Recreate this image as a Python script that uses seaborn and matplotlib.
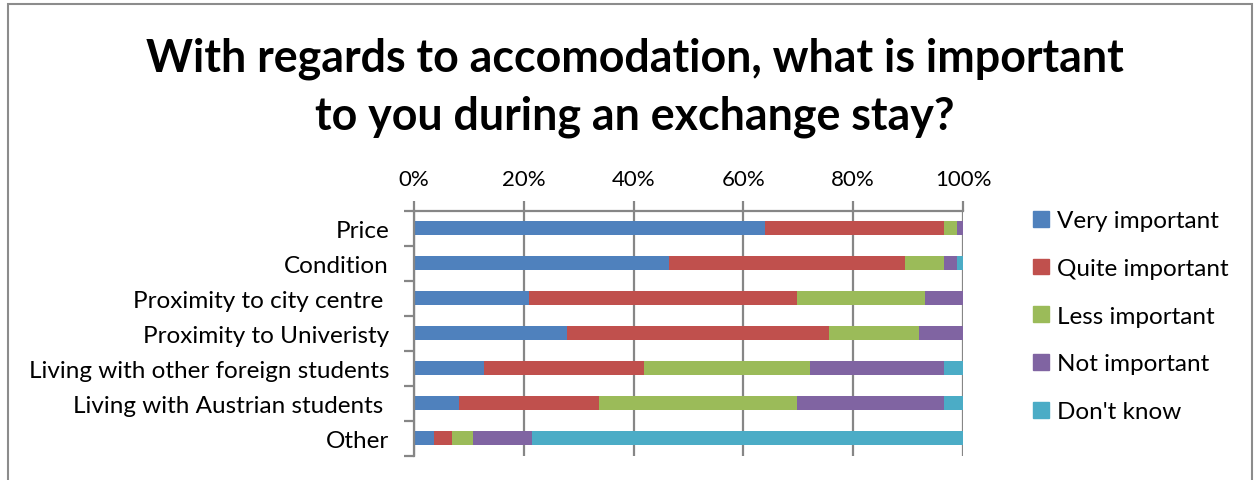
import matplotlib
matplotlib.use("Agg")
import matplotlib.pyplot as plt
import matplotlib.patches as mpatches
import numpy as np
import pandas as pd
import seaborn as sns

# Survey answers, share of respondents (%) per accommodation aspect
categories = [
    "Price",
    "Condition",
    "Proximity to city centre ",
    "Proximity to Univeristy",
    "Living with other foreign students",
    "Living with Austrian students ",
    "Other",
]
very_important = [64.0, 46.4, 20.9, 27.9, 12.8, 8.1, 3.6]
quite_important = [32.6, 43.1, 48.8, 47.7, 29.0, 25.6, 3.4]
less_important = [2.3, 7.1, 23.3, 16.4, 30.3, 36.1, 3.7]
not_important = [1.1, 2.3, 7.0, 8.0, 24.5, 26.8, 10.8]
dont_know = [0.0, 1.1, 0.0, 0.0, 3.4, 3.4, 78.5]

series_names = ["Very important", "Quite important", "Less important",
                "Not important", "Don't know"]
series_values = [very_important, quite_important, less_important,
                 not_important, dont_know]
series_colors = ["#4F81BD", "#C0504D", "#9BBB59", "#8064A2", "#4BACC6"]
tick_values = [0, 20, 40, 60, 80, 100]
tick_labels = ["0%", "20%", "40%", "60%", "80%", "100%"]

sns.set_style("white")
plt.rcParams["font.family"] = ["Lato", "DejaVu Sans"]
plt.rcParams["text.color"] = "black"
plt.rcParams["xtick.labelcolor"] = "black"
plt.rcParams["ytick.labelcolor"] = "black"

fig = plt.figure(figsize=(12.6, 4.81), dpi=100)
ax = fig.add_axes([0.3286, 0.0499, 0.4357, 0.5094])

# Cumulative totals so each segment can be drawn as an overlapping bar
df = pd.DataFrame(dict(zip(series_names, series_values)), index=categories)
cum = df.cumsum(axis=1)

gridc = "#868686"
for x in tick_values:
    ax.axvline(x, color=gridc, lw=1.6, zorder=0)

for name, color in reversed(list(zip(series_names, series_colors))):
    sns.barplot(x=cum[name].values, y=categories, orient="h", color=color,
                saturation=1, width=0.4, ax=ax, zorder=2, linewidth=0)

label_size = 17.5
ax.set_xlim(0, 100)
ax.set_ylim(6.5, -0.5)
ax.set_xticks(tick_values)
ax.set_xticklabels(tick_labels, fontsize=16)
ax.xaxis.tick_top()
ax.tick_params(axis="x", which="both", top=True, bottom=False, length=7,
               width=1.6, color=gridc, pad=9)
ax.set_yticks(np.arange(len(categories)))
ax.set_yticklabels(categories, fontsize=label_size)
ax.tick_params(axis="y", which="major", left=False, length=0, pad=18)
ax.set_yticks(np.arange(-0.5, len(categories), 1.0), minor=True)
ax.tick_params(axis="y", which="minor", left=True, length=7, width=1.6,
               color=gridc)
ax.set_xlabel("")
ax.set_ylabel("")
for side in ["right", "bottom"]:
    ax.spines[side].set_visible(False)
for side in ["left", "top"]:
    ax.spines[side].set_color(gridc)
    ax.spines[side].set_linewidth(1.6)

# Title
fig.text(0.504, 0.878, "With regards to accomodation, what is important",
         ha="center", va="center", fontsize=32.2, fontweight="bold")
fig.text(0.504, 0.758, "to you during an exchange stay?",
         ha="center", va="center", fontsize=32.2, fontweight="bold")

# Legend
handles = [mpatches.Patch(color=c, label=n)
           for n, c in zip(series_names, series_colors)]
fig.legend(handles=handles, loc="upper left", bbox_to_anchor=(0.8125, 0.581),
           frameon=False, fontsize=label_size, handlelength=0.62,
           handleheight=0.62, handletextpad=0.35, labelspacing=1.1,
           borderaxespad=0)

# Chart border
fig.patches.append(mpatches.Rectangle((0.0065, -0.05), 0.987, 1.04,
                                      transform=fig.transFigure, fill=False,
                                      edgecolor="#8C8C8C", lw=1.5))

fig.savefig("out.png", dpi=100)
